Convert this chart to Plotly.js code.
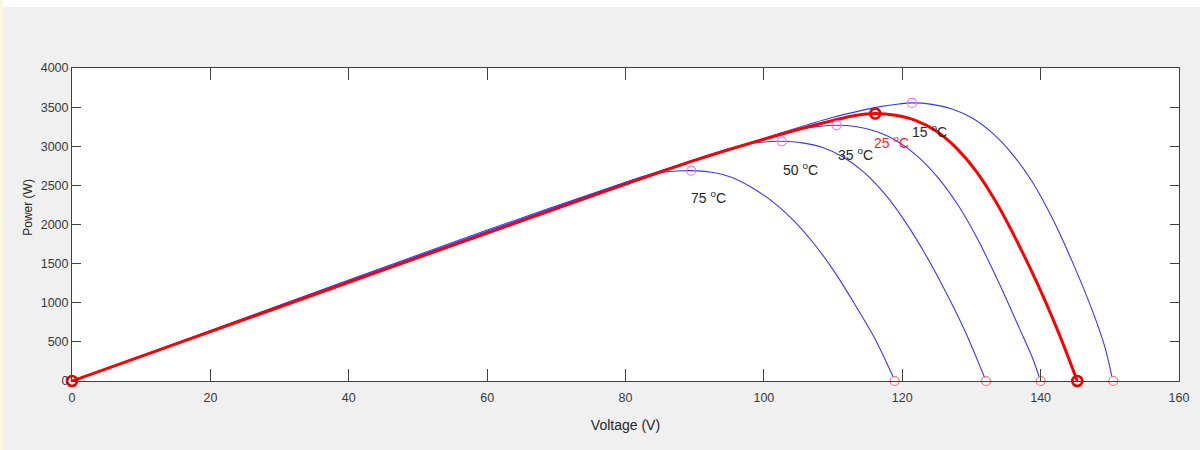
<!DOCTYPE html>
<html>
<head>
<meta charset="utf-8">
<script src="https://cdn.plot.ly/plotly-3.0.1.min.js"></script>
<style>
  html, body { margin: 0; padding: 0; background: #f0f0f0; }
  #chart { width: 1200px; height: 450px; }
  #topstrip { position: absolute; left: 0; top: 0; width: 1200px; height: 7px; background: #ffffff; z-index: 5; }
  #leftstrip { position: absolute; left: 0; top: 0; width: 3px; height: 450px; background: #fdf8e4; z-index: 6; }
</style>
</head>
<body>
<div id="topstrip"></div>
<div id="leftstrip"></div>
<div id="chart"></div>
<script>
// ---- Data (Voltage V, Power W) ----
const v75 = [0, 20, 40, 60, 80, 83, 85.5, 87.5, 89.5, 92.4, 95.4, 98.3, 101.3, 104.2, 107.1, 110.1, 113.0, 116.0, 117.7, 118.7];
const p75 = [0, 645, 1290, 1930, 2540, 2625, 2668, 2684, 2688, 2667, 2600, 2470, 2290, 2060, 1770, 1410, 1000, 550, 240, 50];

const v50 = [0, 20, 40, 60, 80, 90, 95, 98, 100.5, 102.6, 105.55, 108.5, 111.45, 114.4, 117.35, 120.3, 123.25, 126.2, 129.15, 130.9, 131.9];
const p50 = [0, 640, 1280, 1915, 2535, 2830, 2970, 3035, 3058, 3063, 3043, 2983, 2863, 2673, 2403, 2053, 1633, 1153, 623, 260, 45];

const v35 = [0, 20, 40, 60, 80, 90, 100, 104, 107, 110.5, 113.45, 116.4, 119.35, 122.3, 125.25, 128.2, 131.15, 134.1, 137.05, 138.8, 139.8];
const p35 = [0, 635, 1272, 1905, 2525, 2825, 3095, 3195, 3245, 3268, 3250, 3185, 3060, 2865, 2590, 2230, 1770, 1230, 650, 300, 50];

const v25 = [0, 20, 40, 60, 80, 90, 100, 106, 110, 113, 116.1, 119.0, 121.9, 124.9, 127.8, 130.7, 133.6, 136.5, 139.5, 142.4, 144.1, 145.3];
const p25 = [0, 630, 1262, 1890, 2515, 2820, 3090, 3240, 3330, 3390, 3418, 3395, 3330, 3195, 2980, 2680, 2280, 1800, 1250, 660, 280, 0];

const v15 = [0, 20, 40, 60, 80, 90, 100, 105, 110, 114, 117, 119.5, 121.4, 124.3, 127.2, 130.1, 133.0, 135.9, 138.9, 141.8, 144.7, 147.6, 149.3, 150.3];
const p15 = [0, 628, 1258, 1885, 2510, 2815, 3100, 3240, 3370, 3455, 3510, 3540, 3554, 3535, 3475, 3360, 3170, 2900, 2530, 2060, 1500, 870, 430, 60];

// maximum power points (magenta circles) of the blue curves
const mppV = [89.5, 102.6, 110.5, 121.4];
const mppP = [2688, 3063, 3268, 3554];
// open-circuit voltages (circles on the axis) of the blue curves
const vocV = [118.9, 132.1, 140.0, 150.5];
const vocP = [0, 0, 0, 0];
// 25 °C reference points (bold red circles)
const refV = [0, 116.1, 145.3];
const refP = [0, 3418, 0];

// curve labels
const labelTemp = ['75', '50', '35', '25', '15'];
const labelV = [92.0, 105.3, 113.2, 118.5, 124.0];
const labelP = [2350, 2710, 2905, 3060, 3200];
const labelColor = ['#262626', '#262626', '#262626', '#ff1a1a', '#262626'];

// ---- Traces ----
const blue = 'rgb(55,55,255)';
const curveSets = [[v75, p75], [v50, p50], [v35, p35], [v15, p15]];
const traces = curveSets.map(function (c) {
  return {
    x: c[0], y: c[1], type: 'scatter', mode: 'lines',
    line: { color: blue, width: 1.1, shape: 'spline', smoothing: 0.8 },
    hoverinfo: 'skip', showlegend: false
  };
});
traces.push({
  x: v25, y: p25, type: 'scatter', mode: 'lines',
  line: { color: '#ff0000', width: 3, shape: 'spline', smoothing: 0.8 },
  hoverinfo: 'skip', showlegend: false
});
traces.push({
  x: mppV, y: mppP, type: 'scatter', mode: 'markers', cliponaxis: false,
  marker: { symbol: 'circle-open', size: 9, color: 'rgb(255,110,255)', line: { width: 1.2 } },
  showlegend: false
});
traces.push({
  x: vocV, y: vocP, type: 'scatter', mode: 'markers', cliponaxis: false,
  marker: { symbol: 'circle-open', size: 9, color: 'rgb(255,110,110)', line: { width: 1.2 } },
  showlegend: false
});
traces.push({
  x: refV, y: refP, type: 'scatter', mode: 'markers', cliponaxis: false,
  marker: { symbol: 'circle-open', size: 10, color: '#ee0000', line: { width: 2.6 } },
  showlegend: false
});

const annotations = labelTemp.map(function (t, i) {
  return {
    x: labelV[i], y: labelP[i], xref: 'x', yref: 'y',
    text: '<span style="font-size:14px">' + t + ' </span><sup>o</sup><span style="font-size:14px">C</span>',
    showarrow: false,
    font: { family: 'Liberation Sans, Arial, sans-serif', size: 14, color: labelColor[i] },
    xanchor: 'center', yanchor: 'middle'
  };
});
annotations.push({
  text: 'Power (W)', xref: 'paper', yref: 'paper', x: -0.0405, y: 0.554,
  textangle: -90, showarrow: false, xanchor: 'center', yanchor: 'middle',
  font: { family: 'Liberation Sans, Arial, sans-serif', size: 12, color: '#262626' }
});

const axisFont = { family: 'Liberation Sans, Arial, sans-serif', size: 12.5, color: '#3a3a3a' };

const layout = {
  width: 1200, height: 450,
  margin: { l: 72, r: 21, t: 68, b: 69, pad: 0 },
  paper_bgcolor: '#f0f0f0',
  plot_bgcolor: '#ffffff',
  showlegend: false,
  xaxis: {
    range: [0, 160], dtick: 20, tick0: 0,
    ticks: 'inside', ticklen: 12, tickwidth: 1, tickcolor: '#404040',
    showline: true, linecolor: '#404040', linewidth: 1, mirror: 'ticks',
    showgrid: false, zeroline: false,
    tickfont: axisFont, ticklabelstandoff: 5,
    title: { text: 'Voltage (V)', font: { family: 'Liberation Sans, Arial, sans-serif', size: 14, color: '#262626' }, standoff: 16 }
  },
  yaxis: {
    range: [0, 4000], dtick: 500, tick0: 0,
    ticks: 'inside', ticklen: 9, tickwidth: 1, tickcolor: '#404040',
    showline: true, linecolor: '#404040', linewidth: 1, mirror: 'ticks',
    showgrid: false, zeroline: false,
    tickfont: axisFont
  },
  annotations: annotations
};

Plotly.newPlot('chart', traces, layout, { staticPlot: true, displayModeBar: false });
</script>
</body>
</html>
